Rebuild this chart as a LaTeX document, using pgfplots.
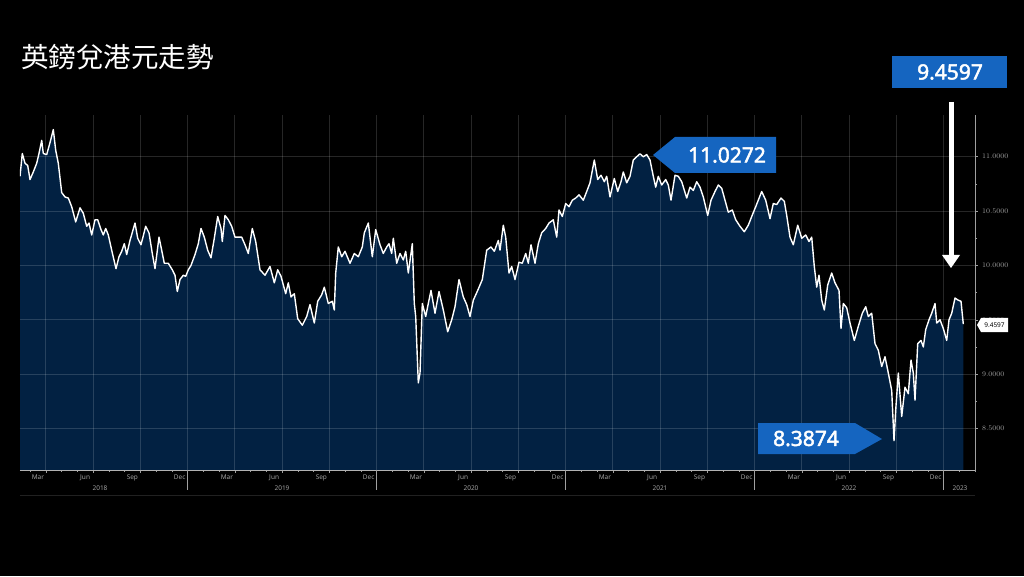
\documentclass[border=0pt]{standalone}
\usepackage{fontspec}
\setmainfont{Noto Sans}[AutoFakeBold=2.5]
\newfontfamily\cjk{Noto Sans CJK TC}
\newfontfamily\tagfont{Noto Sans}[FakeBold=2.2]
\usepackage{pgfplots}
\pgfplotsset{compat=1.18}
\usepackage{pgfplotstable}
\definecolor{navy}{RGB}{2,33,66}
\definecolor{tagblue}{RGB}{21,101,192}
\definecolor{axgray}{RGB}{160,160,160}

% px = horizontal position (converted to months since Jan 2018 by x filter), v = GBP/HKD
\pgfplotstableread{
px v
20 10.82
22.3 11.03
25 10.94
27.7 10.92
30 10.79
33.3 10.86
36.7 10.94
39 11.03
41.7 11.15
43.3 11.03
46.7 11.02
50 11.13
53.3 11.25
55.7 11.06
58.3 10.94
61.7 10.67
65 10.63
68.3 10.62
71.7 10.54
75.7 10.40
80 10.53
83.3 10.48
86.7 10.36
89 10.39
91.7 10.28
95 10.42
97.7 10.42
101 10.33
103.3 10.28
105.7 10.34
108.3 10.28
111.7 10.14
116 9.97
119 10.08
121.7 10.13
124.3 10.20
126.7 10.10
130 10.23
135 10.39
137.7 10.25
141 10.19
145.7 10.36
149 10.30
152.3 10.11
155 9.97
159 10.26
161.7 10.14
164.3 10.02
168.3 10.02
172.3 9.96
175 9.91
177.3 9.76
180 9.87
183.3 9.91
185.7 9.90
188.3 9.96
191 10.00
195 10.10
198.3 10.20
201 10.34
204.3 10.26
207.7 10.14
211 10.07
214.3 10.25
217.7 10.45
221 10.34
222.3 10.22
225 10.46
228.3 10.42
231.7 10.36
235 10.26
238.3 10.26
241.7 10.26
245 10.19
248.3 10.11
252.3 10.34
255.7 10.22
260 9.96
265 9.91
270 9.99
274.3 9.84
277.7 9.96
281 9.90
285.7 9.74
288.3 9.84
291 9.71
294.3 9.74
297.7 9.51
302.3 9.45
306.7 9.53
310 9.64
314.3 9.47
317.7 9.67
321.7 9.73
324.3 9.80
328.3 9.65
332.3 9.67
334.3 9.59
335.7 9.93
338.3 10.17
341.7 10.08
345 10.13
350 10.02
354.3 10.11
358.3 10.08
362.3 10.17
364.3 10.30
368.3 10.39
372.3 10.08
375.7 10.33
380 10.19
383.3 10.11
386.7 10.17
389 10.20
391.7 10.11
393.3 10.25
396.7 10.02
400 10.11
403.3 10.05
405.7 10.13
408.3 9.93
412.3 10.20
414.3 9.65
415.7 9.53
418.3 8.92
420 9.01
422.3 9.65
425.7 9.53
428.3 9.65
431 9.77
435 9.56
439 9.76
443.3 9.59
447.7 9.39
451.7 9.50
455 9.62
459 9.87
463.3 9.71
466.7 9.64
470 9.53
473.3 9.68
477.7 9.77
482.3 9.87
486.7 10.14
491 10.17
494.3 10.13
498.3 10.23
500 10.14
503.3 10.37
505.7 10.26
509 9.93
511.7 9.99
515 9.87
519 10.03
522.3 10.02
525.7 10.11
528.3 10.02
531 10.19
535 10.02
538.3 10.20
541.7 10.30
545.7 10.34
549 10.39
553.3 10.42
556.7 10.26
559 10.51
562.3 10.45
565.7 10.57
569 10.54
572.3 10.60
575.7 10.62
579 10.65
583.3 10.60
586.7 10.68
590 10.76
594.3 10.97
597.7 10.79
601 10.83
604.3 10.77
606.7 10.82
610 10.63
614.3 10.80
617.7 10.68
621 10.77
623.3 10.86
626.7 10.76
630 10.82
633.3 10.97
636.7 11.00
640 11.0272
643.3 11.00
646.7 11.02
650 10.97
653.3 10.82
655.7 10.72
658.3 10.82
661.7 10.74
665.7 10.79
668.3 10.74
671 10.60
675 10.83
678.3 10.82
681.7 10.77
686.7 10.62
690 10.72
693.3 10.69
696.7 10.77
700 10.72
703.3 10.63
707.7 10.46
711 10.60
715 10.68
718.3 10.74
721.7 10.71
725 10.60
728.3 10.49
732.3 10.51
735.7 10.42
740 10.36
744.3 10.31
748.3 10.37
751.7 10.45
755.7 10.54
761.7 10.68
765.7 10.60
770 10.43
773.3 10.57
776.7 10.56
781 10.62
784.3 10.59
786.7 10.46
790 10.26
793.3 10.19
797.7 10.37
801.7 10.25
805.7 10.28
809 10.22
811.7 10.26
814.3 9.99
816.7 9.80
819 9.91
821.7 9.68
824.3 9.59
827.7 9.82
831.7 9.93
835 9.84
839 9.77
841 9.42
843.3 9.65
846.7 9.61
850 9.47
854.3 9.31
858.3 9.44
862.3 9.56
865.7 9.62
868.3 9.53
871.7 9.56
875 9.28
878.3 9.22
881.7 9.07
885 9.16
888.3 9.01
891.7 8.85
894 8.3874
895.7 8.67
898.3 9.01
901.7 8.61
905 8.88
908.3 8.82
911 9.13
913.3 9.01
915 8.76
917.7 9.28
921 9.31
923.3 9.25
925.7 9.41
929 9.50
931.7 9.56
935 9.65
936.7 9.47
940 9.50
943.3 9.42
946.7 9.31
949 9.50
951.7 9.56
955 9.70
958.3 9.68
961 9.67
963.3 9.4597
}\gbphkd

\begin{document}
\begin{tikzpicture}
\fill[black] (0,0) rectangle (1024pt,576pt);
\begin{axis}[
  at={(20pt,106pt)}, anchor=south west,
  scale only axis, width=955pt, height=355pt,
  xmin=1.365, xmax=62.0, ymin=8.118, ymax=11.384,
  axis on top,
  axis x line*=bottom, axis y line*=right,
  xtick={0,3,...,63}, xticklabels={},
  minor x tick num=2,
  ytick={8.5,9,...,11}, minor y tick num=1,
  grid=major,
  grid style={white, opacity=0.15, line width=0.8pt},
  tick align=outside,
  major tick length=2.5pt, minor tick length=2pt,
  tick style={axgray, line width=0.5pt},
  x axis line style={white!70!black, line width=0.8pt},
  y axis line style={axgray, line width=0.8pt},
  yticklabel style={font=\fontsize{7}{8}\selectfont, text=axgray, xshift=1pt,
    /pgf/number format/.cd, fixed, fixed zerofill, precision=4},
  extra x ticks={2.5,5.5,...,59.5},
  extra x tick labels={Mar,Jun,Sep,Dec,Mar,Jun,Sep,Dec,Mar,Jun,Sep,Dec,Mar,Jun,Sep,Dec,Mar,Jun,Sep,Dec},
  extra x tick style={grid=none, major tick length=0pt,
    tick label style={font=\fontsize{6.5}{7}\selectfont, text=axgray, yshift=-1pt}},
]
\addplot[draw=none, fill=navy, x filter/.expression={(x+1.5)/15.75}]
  table[x=px, y=v]{\gbphkd} \closedcycle;
\addplot[white, line width=1.4pt, line join=round, x filter/.expression={(x+1.5)/15.75}]
  table[x=px, y=v]{\gbphkd};
\end{axis}
\begin{scope}[x=1pt, y=1pt]
  % year separators and labels
  \foreach \xx in {187.5,376.5,565.5,754.5,943.5}
    \draw[axgray, line width=0.5pt] (\xx,106) -- (\xx,86);
  \draw[white!13!black, line width=0.6pt] (20,81) -- (975,81);
  \foreach \xx/\yy in {100/2018,282/2019,471/2020,660/2021,849/2022,960/2023}
    \node[text=axgray, font=\fontsize{6.5}{7}\selectfont, inner sep=0] at (\xx,88) {\yy};
  % title
  \node[anchor=west, inner sep=0, text=white, font=\cjk\fontsize{27.5}{30}\selectfont] at (21,519) {英鎊兌港元走勢};
  % 11.0272 tag
  \fill[tagblue] (653,421) -- (675,439) -- (776,439) -- (776,403) -- (675,403) -- cycle;
  \node[text=white, font=\tagfont\fontsize{21}{24}\selectfont, inner sep=0] at (727,421) {11.0272};
  % 8.3874 tag
  \fill[tagblue] (758,153) -- (855,153) -- (882,137) -- (855,122) -- (758,122) -- cycle;
  \node[text=white, font=\tagfont\fontsize{21}{24}\selectfont, inner sep=0] at (806,137.5) {8.3874};
  % 9.4597 tag with arrow
  \fill[tagblue] (892,488) rectangle (1007,520);
  \node[text=white, font=\tagfont\fontsize{21}{24}\selectfont, inner sep=0] at (950,504) {9.4597};
  \draw[white, line width=5pt] (951,474) -- (951,320);
  \fill[white] (942,321) -- (960,321) -- (951,308) -- cycle;
  % last value tag
  \fill[white] (977,251) -- (981,258) -- (1008,258) -- (1008,244) -- (981,244) -- cycle;
  \node[text=black, font=\fontsize{6.5}{7}\selectfont, inner sep=0] at (994.5,251) {9.4597};
\end{scope}
\pgfresetboundingbox
\useasboundingbox (0,0) rectangle (1024pt,576pt);
\end{tikzpicture}
\end{document}
